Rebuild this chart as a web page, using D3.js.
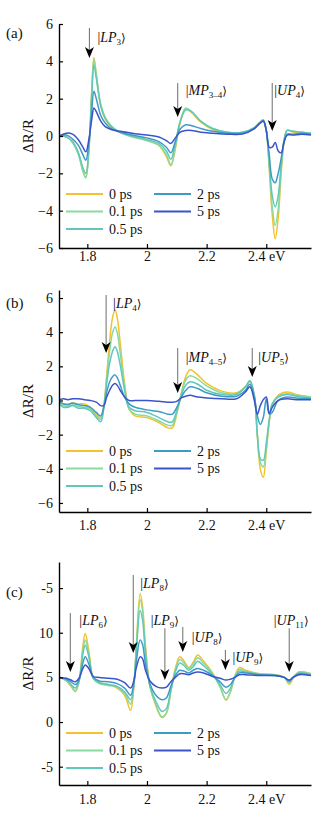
<!DOCTYPE html>
<html>
<head>
<meta charset="utf-8">
<script src="https://cdn.jsdelivr.net/npm/d3@7"></script>
<style>
  body { margin: 0; background: #fff; }
  svg { display: block; }
  text { font-family: "Liberation Serif", "Times New Roman", Times, serif; }
</style>
</head>
<body>
<div id="chart"></div>
<script>
// Delay times and colours
const delays = ['0 ps', '0.1 ps', '0.5 ps', '2 ps', '5 ps'];
const colors = ['#f3c22f', '#8ad9a0', '#62c7bb', '#3f9bc6', '#3b55c8'];

// Panel (a)
const energyA = [1.707, 1.73, 1.75, 1.77, 1.785, 1.795, 1.805, 1.815, 1.822, 1.83, 1.845, 1.86, 1.88, 1.91, 1.95, 2.0, 2.04, 2.065, 2.08, 2.095, 2.11, 2.13, 2.15, 2.18, 2.22, 2.27, 2.32, 2.36, 2.38, 2.39, 2.4, 2.41, 2.42, 2.43, 2.44, 2.45, 2.46, 2.47, 2.49, 2.52, 2.55];
const a0  = [0, -0.05, -0.3, -0.9, -1.8, -2.2, -0.8, 2.5, 4.2, 3.3, 1.6, 0.9, 0.5, 0.2, 0.0, -0.2, -0.5, -1.1, -1.6, -0.7, 0.6, 1.45, 1.25, 0.75, 0.35, 0.15, 0.15, 0.45, 0.75, 0.85, 0.3, -1.8, -4.2, -5.5, -4.4, -2.0, -0.3, 0.3, 0.2, 0.2, 0.1];
const a01 = [0, -0.05, -0.35, -1.0, -1.9, -2.25, -0.8, 2.4, 4.1, 3.3, 1.7, 1.0, 0.55, 0.2, -0.05, -0.25, -0.5, -1.0, -1.55, -0.6, 0.7, 1.5, 1.3, 0.8, 0.4, 0.2, 0.2, 0.45, 0.75, 0.85, 0.3, -1.6, -3.8, -4.8, -3.9, -1.8, -0.2, 0.3, 0.25, 0.2, 0.15];
const a05 = [0, -0.05, -0.3, -0.9, -1.7, -2.0, -0.7, 2.2, 3.8, 3.1, 1.6, 0.95, 0.5, 0.2, 0.0, -0.2, -0.4, -0.8, -1.25, -0.4, 0.7, 1.4, 1.3, 0.8, 0.4, 0.2, 0.2, 0.45, 0.75, 0.85, 0.3, -1.4, -3.2, -3.8, -3.2, -1.5, -0.2, 0.3, 0.25, 0.2, 0.15];
const a2  = [0, 0.05, -0.15, -0.5, -1.0, -1.3, -0.4, 1.4, 2.4, 2.0, 1.1, 0.7, 0.4, 0.2, 0.05, -0.1, -0.3, -0.6, -0.9, -0.3, 0.35, 0.6, 0.55, 0.4, 0.25, 0.15, 0.15, 0.4, 0.7, 0.8, 0.3, -1.0, -2.3, -2.5, -2.0, -1.2, -0.3, 0.1, 0.1, 0.15, 0.1];
const a5  = [0, 0.15, 0.1, -0.2, -0.6, -0.85, -0.2, 0.9, 1.5, 1.3, 0.8, 0.5, 0.35, 0.25, 0.15, 0.05, -0.05, -0.25, -0.4, -0.1, 0.2, 0.3, 0.3, 0.2, 0.15, 0.1, 0.1, 0.4, 0.7, 0.8, 0.3, -0.6, -0.6, -0.35, -0.8, -0.9, -0.3, 0.05, 0.05, 0.1, 0.05];

// Panel (b)
const energyB = [1.707, 1.72, 1.735, 1.75, 1.77, 1.79, 1.81, 1.83, 1.845, 1.855, 1.865, 1.875, 1.885, 1.893, 1.9, 1.91, 1.925, 1.94, 1.96, 2.0, 2.04, 2.07, 2.085, 2.1, 2.115, 2.13, 2.145, 2.17, 2.2, 2.25, 2.3, 2.33, 2.345, 2.36, 2.37, 2.38, 2.39, 2.4, 2.41, 2.42, 2.44, 2.47, 2.5, 2.55];
const b0  = [-0.1, -0.2, -0.2, -0.15, -0.2, -0.2, -0.4, -0.8, -1.0, -0.3, 1.5, 3.5, 4.9, 5.3, 4.9, 3.4, 1.0, -0.5, -0.9, -1.0, -1.3, -1.6, -1.6, -0.8, 0.4, 1.4, 1.8, 1.5, 1.0, 0.55, 0.45, 0.8, 1.1, 0.3, -2.0, -4.0, -4.5, -3.0, -1.3, -0.3, 0.3, 0.5, 0.35, 0.2];
const b01 = [-0.15, -0.3, -0.35, -0.25, -0.35, -0.4, -0.5, -0.9, -1.1, -0.4, 1.3, 2.9, 4.0, 4.3, 4.0, 2.8, 0.8, -0.5, -0.8, -0.9, -1.2, -1.45, -1.45, -0.7, 0.4, 1.2, 1.45, 1.25, 0.85, 0.45, 0.4, 0.8, 1.15, 0.3, -2.0, -3.6, -3.9, -2.8, -1.2, -0.2, 0.25, 0.4, 0.3, 0.2];
const b05 = [-0.2, -0.4, -0.4, -0.3, -0.45, -0.45, -0.6, -1.0, -1.25, -0.5, 1.0, 2.2, 2.9, 3.15, 2.9, 2.1, 0.6, -0.4, -0.6, -0.7, -1.0, -1.25, -1.25, -0.6, 0.3, 0.9, 1.1, 0.95, 0.6, 0.35, 0.35, 0.8, 1.15, 0.3, -2.0, -3.4, -3.5, -2.5, -1.1, -0.2, 0.2, 0.35, 0.25, 0.15];
const b2  = [-0.1, -0.2, -0.25, -0.15, -0.25, -0.3, -0.4, -0.7, -0.9, -0.4, 0.5, 1.1, 1.4, 1.5, 1.35, 0.9, 0.2, -0.2, -0.4, -0.55, -0.65, -0.8, -0.8, -0.4, 0.2, 0.6, 0.8, 0.7, 0.45, 0.25, 0.25, 0.6, 0.95, 0.2, -0.9, -1.4, -1.0, 0.1, -0.8, -0.7, 0.0, 0.2, 0.15, 0.1];
const b5  = [0.05, 0.1, 0.05, 0.1, 0.1, 0.05, 0.0, -0.1, -0.3, -0.3, 0.2, 0.6, 0.9, 1.0, 0.9, 0.6, 0.2, 0.0, 0.0, 0.0, -0.05, -0.1, -0.1, -0.05, 0.15, 0.25, 0.3, 0.2, 0.15, 0.1, 0.1, 0.5, 0.8, 0.0, -0.8, -0.3, 0.05, 0.2, -0.75, -0.4, 0.0, 0.1, 0.05, 0.05];

// Panel (c)
const energyC = [1.707, 1.73, 1.745, 1.76, 1.772, 1.785, 1.793, 1.805, 1.82, 1.84, 1.87, 1.9, 1.925, 1.945, 1.955, 1.965, 1.977, 1.985, 1.995, 2.01, 2.03, 2.05, 2.065, 2.08, 2.095, 2.11, 2.125, 2.14, 2.155, 2.17, 2.19, 2.22, 2.245, 2.265, 2.28, 2.295, 2.31, 2.33, 2.38, 2.43, 2.46, 2.477, 2.49, 2.51, 2.55];
const c0  = [5.0, 4.6, 4.0, 3.4, 4.5, 8.5, 9.9, 8.0, 5.0, 4.4, 4.2, 3.8, 3.0, 1.3, 3.5, 9.0, 14.4, 13.0, 8.5, 4.0, 1.8, 0.5, 1.0, 3.5, 6.0, 7.3, 6.8, 6.1, 6.7, 7.5, 6.8, 5.5, 4.0, 2.45, 3.4, 5.2, 6.1, 5.8, 5.4, 5.3, 5.0, 4.2, 4.9, 5.6, 5.4];
const c01 = [5.0, 4.6, 4.1, 3.5, 4.5, 8.0, 9.2, 7.6, 4.9, 4.3, 4.1, 3.9, 3.2, 2.0, 3.8, 8.8, 13.7, 12.5, 8.2, 4.0, 1.9, 0.6, 1.0, 3.4, 5.8, 7.0, 6.6, 6.0, 6.5, 7.2, 6.6, 5.4, 3.9, 2.5, 3.4, 5.1, 5.9, 5.7, 5.4, 5.3, 5.0, 4.4, 5.0, 5.6, 5.4];
const c05 = [5.0, 4.7, 4.2, 3.8, 4.6, 7.6, 8.6, 7.3, 4.9, 4.4, 4.2, 4.0, 3.4, 2.5, 3.9, 8.3, 12.5, 11.5, 7.6, 4.0, 2.3, 1.2, 1.5, 3.6, 5.6, 6.6, 6.3, 5.8, 6.2, 6.8, 6.3, 5.3, 4.2, 3.2, 3.8, 5.0, 5.7, 5.6, 5.3, 5.2, 5.0, 4.5, 5.0, 5.5, 5.3];
const c2  = [5.0, 4.8, 4.5, 4.2, 4.7, 6.6, 7.3, 6.5, 5.0, 4.6, 4.5, 4.3, 3.8, 3.0, 4.2, 7.0, 9.2, 8.7, 6.5, 4.3, 3.0, 2.5, 2.7, 4.0, 5.2, 5.8, 5.7, 5.5, 5.8, 6.0, 5.8, 5.2, 4.5, 3.9, 4.2, 5.0, 5.5, 5.5, 5.3, 5.2, 5.0, 4.6, 5.0, 5.4, 5.2];
const c5  = [5.0, 4.9, 4.7, 4.5, 4.9, 6.0, 6.4, 6.0, 5.1, 5.0, 4.9, 4.8, 4.4, 3.8, 4.5, 6.2, 7.3, 7.1, 5.8, 4.6, 4.0, 3.8, 3.9, 4.5, 5.0, 5.4, 5.4, 5.3, 5.5, 5.6, 5.5, 5.1, 4.9, 4.7, 4.8, 5.0, 5.3, 5.3, 5.2, 5.2, 5.0, 4.7, 5.0, 5.3, 5.2];

// Tick labels
const xTicks = [1.8, 2.0, 2.2, 2.4];
const xTickLabels = ['1.8', '2', '2.2', '2.4 eV'];
const yTicksAB = [-6, -4, -2, 0, 2, 4, 6];
const yTicksC = [-5, 0, 5, 10, 15];
const yTickLabelsC = ['-5', '0', '5', '10', '-5'];

// State markers: name, subscript, energy, arrow top value, arrow tip value
const notesA = [
  { name: 'LP', sub: '3', e: 1.807, top: 5.79, tip: 4.18 },
  { name: 'MP', sub: '3\u20134', e: 2.103, top: 2.84, tip: 1.02 },
  { name: 'UP', sub: '4', e: 2.42, top: 2.84, tip: 0.27 }
];
const notesB = [
  { name: 'LP', sub: '4', e: 1.863, top: 6.18, tip: 2.78 },
  { name: 'MP', sub: '4\u20135', e: 2.103, top: 3.07, tip: 0.44 },
  { name: 'UP', sub: '5', e: 2.353, top: 3.07, tip: 1.38 }
];
const notesC = [
  { name: 'LP', sub: '6', e: 1.743, top: 12.2, tip: 5.6 },
  { name: 'LP', sub: '8', e: 1.954, top: 16.46, tip: 7.73 },
  { name: 'LP', sub: '9', e: 2.06, top: 10.5, tip: 4.7 },
  { name: 'UP', sub: '8', e: 2.12, top: 10.64, tip: 7.84 },
  { name: 'UP', sub: '9', e: 2.263, top: 8.06, tip: 5.82 },
  { name: 'UP', sub: '11', e: 2.477, top: 10.5, tip: 5.6 }
];
// label placement for each note: [dx, dy, anchor]
const labelPosA = [[8, 9, 'start'], [8, 7, 'start'], [2, 7, 'start']];
const labelPosB = [[7, 8, 'start'], [8, 9, 'start'], [6, 9, 'start']];
const labelPosC = [[9, 7, 'start'], [7, 8, 'start'], [0, -8, 'middle'], [9, 10, 'start'], [7, 7, 'start'], [2, -8, 'middle']];

const W = 335, H = 826;
const svg = d3.select('#chart').append('svg').attr('width', W).attr('height', H);

const x = d3.scaleLinear().domain([1.705, 2.55]).range([59, 311]);

const panels = [
  { tag: '(a)', tagY: 33, energy: energyA, series: [a0, a01, a05, a2, a5], yDomain: [-6, 6], yRange: [248, 24],
    yTicks: yTicksAB, yLabels: null, notes: notesA, labelPos: labelPosA, legendY: 194, xPad: 3 },
  { tag: '(b)', tagY: 303, energy: energyB, series: [b0, b01, b05, b2, b5], yDomain: [-6.53, 6.47], yRange: [512, 290],
    yTicks: yTicksAB, yLabels: null, notes: notesB, labelPos: labelPosB, legendY: 451, xPad: 8 },
  { tag: '(c)', tagY: 592, energy: energyC, series: [c0, c01, c05, c2, c5], yDomain: [-7.05, 17.92], yRange: [785, 562],
    yTicks: yTicksC, yLabels: yTickLabelsC, notes: notesC, labelPos: labelPosC, legendY: 733, xPad: 9 }
];

panels.forEach(p => {
  const y = d3.scaleLinear().domain(p.yDomain).range(p.yRange);
  const g = svg.append('g');

  // curves
  const line = d3.line()
    .x(d => x(d[0]))
    .y(d => y(d[1]))
    .curve(d3.curveCatmullRom.alpha(0.5));

  p.series.forEach((vals, i) => {
    const pts = p.energy.map((e, k) => [e, vals[k]]);
    g.append('path')
      .attr('d', line(pts))
      .attr('fill', 'none')
      .attr('stroke', colors[i])
      .attr('stroke-width', 1.5)
      .attr('stroke-linejoin', 'round');
  });

  // axes
  const xAxis = d3.axisBottom(x).tickValues(xTicks)
    .tickFormat((d, i) => xTickLabels[i])
    .tickSizeInner(-4).tickSizeOuter(0).tickPadding(p.xPad);
  const yAxis = d3.axisLeft(y).tickValues(p.yTicks)
    .tickFormat((d, i) => p.yLabels ? p.yLabels[i] : d3.format('d')(d))
    .tickSizeInner(-4).tickSizeOuter(0).tickPadding(6);

  const gx = g.append('g').attr('transform', `translate(0,${p.yRange[0]})`).call(xAxis);
  const gy = g.append('g').attr('transform', 'translate(59,0)').call(yAxis);
  [gx, gy].forEach(a => {
    a.attr('font-family', null);
    a.select('.domain').attr('stroke', '#000').attr('stroke-width', 1.4);
    a.selectAll('.tick line').attr('stroke', '#000').attr('stroke-width', 1.2);
    a.selectAll('.tick text').attr('fill', '#111').style('font-size', '14px');
  });

  // y label
  const midY = (p.yRange[0] + p.yRange[1]) / 2;
  g.append('text')
    .attr('transform', `translate(33,${midY}) rotate(-90)`)
    .attr('text-anchor', 'middle')
    .style('font-size', '15px')
    .attr('fill', '#111')
    .text('\u0394R/R');

  // panel tag
  g.append('text')
    .attr('x', 6).attr('y', p.tagY).attr('dy', '0.35em')
    .style('font-size', '15px').attr('fill', '#111')
    .text(p.tag);

  // state arrows and labels
  p.notes.forEach((n, i) => {
    const ax = x(n.e), yTop = y(n.top), yTip = y(n.tip);
    g.append('line')
      .attr('x1', ax).attr('x2', ax)
      .attr('y1', yTop).attr('y2', yTip - 8)
      .attr('stroke', '#7a7a7a').attr('stroke-width', 1.1);
    g.append('path')
      .attr('d', `M${ax},${yTip} L${ax - 4.5},${yTip - 11} L${ax},${yTip - 8} L${ax + 4.5},${yTip - 11} Z`)
      .attr('fill', '#000');

    const [dx, dy, anchor] = p.labelPos[i];
    const t = g.append('text')
      .attr('x', ax + dx).attr('y', yTop + dy).attr('dy', '0.35em')
      .attr('text-anchor', anchor)
      .style('font-size', '14px').attr('fill', '#111');
    t.append('tspan').text('|');
    t.append('tspan').style('font-style', 'italic').text(n.name);
    t.append('tspan').attr('dy', '3').style('font-size', '9px').text(n.sub);
    t.append('tspan').attr('dy', '-3').style('font-family', '"DejaVu Serif", serif').style('font-size', '12px').text('\u27E9');
  });

  // legend: column 1 = first three delays, column 2 = last two
  const legendCols = [[0, 1, 2], [3, 4]];
  const colX = [66, 154];
  legendCols.forEach((col, c) => {
    col.forEach((idx, r) => {
      const ly = p.legendY + r * 17.5;
      g.append('line')
        .attr('x1', colX[c]).attr('x2', colX[c] + 37)
        .attr('y1', ly).attr('y2', ly)
        .attr('stroke', colors[idx]).attr('stroke-width', 2);
      g.append('text')
        .attr('x', colX[c] + 43).attr('y', ly).attr('dy', '0.35em')
        .style('font-size', '14px').attr('fill', '#111')
        .text(delays[idx]);
    });
  });
});
</script>
</body>
</html>
